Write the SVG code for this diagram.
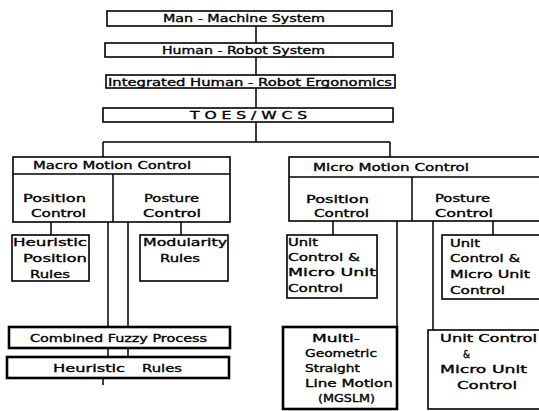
<svg xmlns="http://www.w3.org/2000/svg" width="539" height="411" viewBox="0 0 539 411">
<style>
.b{fill:#fff;stroke:#000;stroke-width:1.6}
.t{fill:none;stroke:#000;stroke-width:2.6}
.l{fill:none;stroke:#000;stroke-width:1.5}
text{font-family:"DejaVu Sans","Liberation Sans",sans-serif;font-size:11px;fill:#000;stroke:#000;stroke-width:0.35}
</style>
<rect width="539" height="411" fill="#fff"/>
<g id="connectors">
<path class="l" d="M256 26V43M256 57V75M256 88V108M256 122V142M103 142H390M103 142V157M390 142V157"/>
<path class="l" d="M51 222V235M181 222V235M108 222V327M128 222V327M108 348V357M128 348V357M103 378V385"/>
<path class="l" d="M333 221V235M397 221V327M433 221V330M493 221V235"/>
</g>
<g id="n1"><rect class="b" x="107" y="11" width="285" height="15"/><text x="163" y="22" textLength="162" lengthAdjust="spacingAndGlyphs">Man - Machine System</text></g>
<g id="n2"><rect class="b" x="105" y="43" width="288" height="14"/><text x="162" y="54" textLength="163" lengthAdjust="spacingAndGlyphs">Human - Robot System</text></g>
<g id="n3"><rect class="b" x="106" y="75" width="289" height="13"/><text x="108" y="85.5" textLength="284" lengthAdjust="spacingAndGlyphs">Integrated Human - Robot Ergonomics</text></g>
<g id="n4"><rect class="b" x="103" y="108" width="290" height="14"/><text x="190" y="119" textLength="117" lengthAdjust="spacingAndGlyphs">T O E S / W C S</text></g>
<g id="macro">
<rect class="b" x="13" y="157" width="217" height="65"/>
<path class="l" d="M13 174H230M113 174V222"/>
<text x="33" y="169" textLength="158" lengthAdjust="spacingAndGlyphs">Macro Motion Control</text>
<text x="23" y="202" textLength="63" lengthAdjust="spacingAndGlyphs">Position</text>
<text x="31" y="217" textLength="55" lengthAdjust="spacingAndGlyphs">Control</text>
<text x="144" y="202" textLength="55" lengthAdjust="spacingAndGlyphs">Posture</text>
<text x="143" y="217" textLength="58" lengthAdjust="spacingAndGlyphs">Control</text>
</g>
<g id="micro">
<rect class="b" x="289" y="157" width="260" height="64"/>
<path class="l" d="M289 177H549M412 177V221"/>
<text x="313" y="171" textLength="156" lengthAdjust="spacingAndGlyphs">Micro Motion Control</text>
<text x="306" y="203" textLength="63" lengthAdjust="spacingAndGlyphs">Position</text>
<text x="314" y="217" textLength="55" lengthAdjust="spacingAndGlyphs">Control</text>
<text x="435" y="202" textLength="55" lengthAdjust="spacingAndGlyphs">Posture</text>
<text x="435" y="217" textLength="58" lengthAdjust="spacingAndGlyphs">Control</text>
</g>
<g id="hpr"><rect class="b" x="12" y="235" width="77" height="46"/>
<text x="13" y="246" textLength="74" lengthAdjust="spacingAndGlyphs">Heuristic</text>
<text x="23" y="262" textLength="64" lengthAdjust="spacingAndGlyphs">Position</text>
<text x="30" y="278" textLength="40" lengthAdjust="spacingAndGlyphs">Rules</text></g>
<g id="mod"><rect class="b" x="140" y="235" width="88" height="46"/>
<text x="143" y="246" textLength="84" lengthAdjust="spacingAndGlyphs">Modularity</text>
<text x="160" y="262" textLength="40" lengthAdjust="spacingAndGlyphs">Rules</text></g>
<g id="cfp"><rect class="t" x="9" y="327" width="221" height="21"/>
<text x="30" y="342" textLength="177" lengthAdjust="spacingAndGlyphs">Combined Fuzzy Process</text></g>
<g id="hr"><rect class="t" x="7" y="357" width="222" height="21"/>
<text x="53" y="372" textLength="72" lengthAdjust="spacingAndGlyphs">Heuristic</text>
<text x="142" y="372" textLength="40" lengthAdjust="spacingAndGlyphs">Rules</text></g>
<g id="ucl"><rect class="b" x="287" y="235" width="90" height="63"/>
<text x="288" y="246" textLength="30" lengthAdjust="spacingAndGlyphs">Unit</text>
<text x="288" y="261" textLength="72" lengthAdjust="spacingAndGlyphs">Control &amp;</text>
<text x="288" y="276" textLength="88" lengthAdjust="spacingAndGlyphs">Micro Unit</text>
<text x="288" y="292" textLength="55" lengthAdjust="spacingAndGlyphs">Control</text></g>
<g id="ucr"><rect class="b" x="442" y="235" width="110" height="64"/>
<text x="450" y="247" textLength="30" lengthAdjust="spacingAndGlyphs">Unit</text>
<text x="450" y="262" textLength="70" lengthAdjust="spacingAndGlyphs">Control &amp;</text>
<text x="450" y="278" textLength="80" lengthAdjust="spacingAndGlyphs">Micro Unit</text>
<text x="450" y="294" textLength="55" lengthAdjust="spacingAndGlyphs">Control</text></g>
<g id="mgslm"><rect class="t" x="283" y="327" width="114" height="82"/>
<text x="312" y="342" textLength="48" lengthAdjust="spacingAndGlyphs">Multi-</text>
<text x="305" y="357" textLength="72" lengthAdjust="spacingAndGlyphs">Geometric</text>
<text x="305" y="372" textLength="55" lengthAdjust="spacingAndGlyphs">Straight</text>
<text x="305" y="387" textLength="88" lengthAdjust="spacingAndGlyphs">Line Motion</text>
<text x="318" y="402" textLength="57" lengthAdjust="spacingAndGlyphs">(MGSLM)</text></g>
<g id="ucb"><rect class="b" x="428" y="330" width="120" height="79"/>
<text x="440" y="342" textLength="97" lengthAdjust="spacingAndGlyphs">Unit Control</text>
<text x="463" y="358" textLength="7" lengthAdjust="spacingAndGlyphs">&amp;</text>
<text x="440" y="373" textLength="87" lengthAdjust="spacingAndGlyphs">Micro Unit</text>
<text x="457" y="389" textLength="60" lengthAdjust="spacingAndGlyphs">Control</text></g>
</svg>
